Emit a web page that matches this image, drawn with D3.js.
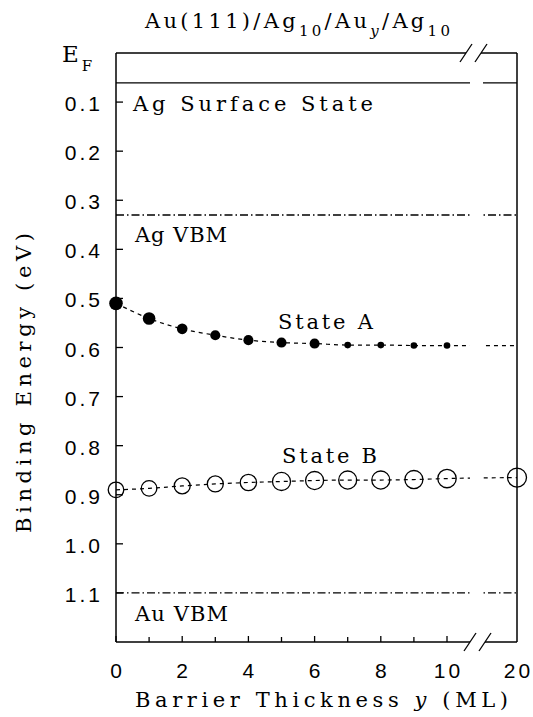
<!DOCTYPE html>
<html>
<head>
<meta charset="utf-8">
<script src="https://d3js.org/d3.v7.min.js"></script>
<style>
  body { margin: 0; background: #fff; }
  text { fill: #000; }
  .lbl { font-family: "DejaVu Serif", serif; font-size: 21px; }
  .tick { font-family: "Liberation Sans", Arial, sans-serif; font-size: 21px; letter-spacing: 3px; }
</style>
</head>
<body>
<script>

// data
const thickness = [0, 1, 2, 3, 4, 5, 6, 7, 8, 9, 10];
const stateA = [0.510, 0.541, 0.562, 0.575, 0.585, 0.590, 0.592, 0.595, 0.595, 0.596, 0.596];
const stateAWeight = [1.0, 0.93, 0.78, 0.74, 0.74, 0.74, 0.74, 0.49, 0.49, 0.49, 0.49];
const stateAAt20 = 0.596;

const thicknessB = [0, 1, 2, 3, 4, 5, 6, 7, 8, 9, 10, 20];
const stateB = [0.890, 0.887, 0.882, 0.878, 0.875, 0.873, 0.871, 0.870, 0.870, 0.869, 0.867, 0.865];
const stateBWeight = [0.82, 0.82, 0.84, 0.84, 0.86, 0.95, 0.95, 0.95, 0.95, 0.95, 0.97, 1.0];

const levelNames = ["Ag Surface State", "Ag VBM", "Au VBM"];
const levelEnergies = [0.061, 0.33, 1.10];

const yTicks = [0.1, 0.2, 0.3, 0.4, 0.5, 0.6, 0.7, 0.8, 0.9, 1.0, 1.1];
const xTicks = [0, 1, 2, 3, 4, 5, 6, 7, 8, 9, 10];
const xTickLabels = [0, 2, 4, 6, 8, 10, 20];

let width = 533, height = 717;
let pLeft = 116, pRight = 517, pTop = 53, pBottom = 642;
let gapL = 470, gapR = 483;

var svg = d3.select("body").append("svg").attr("width", width).attr("height", height);

// broken x axis: 0..10 then jump to 20
var x = d3.scaleLinear().domain([0, 10, 20]).range([pLeft, 447, pRight]);
var y = d3.scaleLinear().domain([0, 1.2]).range([pTop, pBottom]);
var rA = d3.scaleLinear().domain([0, 1]).range([0, 6.8]);
var rB = d3.scaleLinear().domain([0, 1]).range([0, 9.5]);

svg.append("clipPath").attr("id", "brk")
  .selectAll("rect").data([[pLeft, gapL], [gapR, pRight]]).enter().append("rect")
  .attr("x", d => d[0]).attr("width", d => d[1] - d[0])
  .attr("y", pTop).attr("height", pBottom - pTop);

var plot = svg.append("g").attr("clip-path", "url(#brk)");

// reference levels
plot.selectAll(".lvl").data(levelEnergies).enter().append("line")
  .attr("class", "lvl")
  .attr("x1", pLeft).attr("x2", pRight)
  .attr("y1", d => y(d)).attr("y2", d => y(d))
  .attr("stroke", "#000").attr("stroke-width", 1.3)
  .attr("stroke-dasharray", (d, i) => i == 0 ? null : "8,3,1.5,3");

svg.selectAll(".lvlname").data(levelNames).enter().append("text")
  .attr("class", "lbl")
  .attr("x", (d, i) => i == 0 ? 133 : 135)
  .attr("y", (d, i) => [111, 242, 621][i])
  .attr("textLength", (d, i) => [240, 92, 93][i])
  .attr("lengthAdjust", "spacing")
  .text(d => d);

// fit curves
var line = d3.line().x(d => x(d[0])).y(d => y(d[1])).curve(d3.curveMonotoneX);
var lineA = thickness.map((t, i) => [t, stateA[i]]).concat([[20, stateAAt20]]);
var lineB = thicknessB.map((t, i) => [t, stateB[i]]);

plot.append("path").datum(lineA).attr("d", line)
  .attr("fill", "none").attr("stroke", "#000").attr("stroke-width", 1.2).attr("stroke-dasharray", "4,4");
plot.append("path").datum(lineB).attr("d", line)
  .attr("fill", "none").attr("stroke", "#000").attr("stroke-width", 1.2).attr("stroke-dasharray", "4,4");

svg.selectAll(".ptA").data(thickness).enter().append("circle")
  .attr("class", "ptA")
  .attr("cx", d => x(d)).attr("cy", (d, i) => y(stateA[i]))
  .attr("r", (d, i) => rA(stateAWeight[i]))
  .attr("fill", "#000");

svg.selectAll(".ptB").data(thicknessB).enter().append("circle")
  .attr("class", "ptB")
  .attr("cx", d => x(d)).attr("cy", (d, i) => y(stateB[i]))
  .attr("r", (d, i) => rB(stateBWeight[i]))
  .attr("fill", "none").attr("stroke", "#000").attr("stroke-width", 1.3);

svg.append("text").attr("class", "lbl").attr("x", 278).attr("y", 329)
  .attr("textLength", 95).attr("lengthAdjust", "spacing").text("State A");
svg.append("text").attr("class", "lbl").attr("x", 282).attr("y", 463)
  .attr("textLength", 95).attr("lengthAdjust", "spacing").text("State B");

// frame with breaks
var frame = svg.append("g").attr("stroke", "#000").attr("stroke-width", 1.5).attr("fill", "none");
frame.append("line").attr("x1", pLeft).attr("x2", pLeft).attr("y1", pTop).attr("y2", pBottom);
frame.append("line").attr("x1", pRight).attr("x2", pRight).attr("y1", pTop).attr("y2", pBottom);
[[pTop, 466, 481], [pBottom, 470, 485]].forEach(function(b) {
  let yy = b[0];
  frame.append("line").attr("x1", pLeft).attr("x2", b[1]).attr("y1", yy).attr("y2", yy);
  frame.append("line").attr("x1", b[2]).attr("x2", pRight).attr("y1", yy).attr("y2", yy);
  [b[1], b[2]].forEach(function(cx) {
    frame.append("line").attr("x1", cx - 6).attr("x2", cx + 6)
      .attr("y1", yy + 9).attr("y2", yy - 9).attr("stroke-width", 1.3);
  });
});

// y axis
svg.append("g").selectAll("line").data(yTicks).enter().append("line")
  .attr("x1", pLeft).attr("x2", pLeft + 7)
  .attr("y1", d => y(d)).attr("y2", d => y(d))
  .attr("stroke", "#000").attr("stroke-width", 1.3);
svg.append("g").selectAll("text").data(yTicks).enter().append("text")
  .attr("class", "tick").attr("text-anchor", "end")
  .attr("x", 103).attr("y", d => y(d) + 9)
  .text(d => d3.format(".1f")(d));

var ef = svg.append("text").attr("class", "lbl").attr("x", 62).attr("y", y(0) + 9)
  .style("font-size", "23px");
ef.append("tspan").text("E");
ef.append("tspan").attr("font-size", 15).attr("dx", 3).attr("dy", 9).text("F");

svg.append("text").attr("class", "lbl").attr("text-anchor", "middle")
  .attr("transform", "translate(31," + 383 + ") rotate(-90)")
  .attr("textLength", 300).attr("lengthAdjust", "spacing")
  .text("Binding Energy (eV)");

// x axis
svg.append("g").selectAll("line").data(xTicks).enter().append("line")
  .attr("x1", d => x(d)).attr("x2", d => x(d))
  .attr("y1", pBottom).attr("y2", d => pBottom - (d % 2 == 0 ? 6 : 5))
  .attr("stroke", "#000").attr("stroke-width", 1.3);
svg.append("g").selectAll("text").data(xTickLabels).enter().append("text")
  .attr("class", "tick").attr("text-anchor", "middle")
  .attr("x", d => x(d) + 1.5).attr("y", 678)
  .text(d => d);

var xl = svg.append("text").attr("class", "lbl").attr("x", 135).attr("y", 707)
  .attr("textLength", 373).attr("lengthAdjust", "spacing");
xl.append("tspan").text("Barrier Thickness ");
xl.append("tspan").attr("font-style", "italic").text("y");
xl.append("tspan").text(" (ML)");

// title
var t = svg.append("text").attr("class", "lbl").attr("x", 145).attr("y", 28)
  .attr("textLength", 305).attr("lengthAdjust", "spacing");
t.append("tspan").text("Au(111)/Ag");
t.append("tspan").attr("font-size", 15).attr("dy", 8).text("10");
t.append("tspan").attr("dy", -8).text("/Au");
t.append("tspan").attr("font-size", 15).attr("font-style", "italic").attr("dy", 8).text("y");
t.append("tspan").attr("dy", -8).text("/Ag");
t.append("tspan").attr("font-size", 15).attr("dy", 8).text("10");

</script>
</body>
</html>
